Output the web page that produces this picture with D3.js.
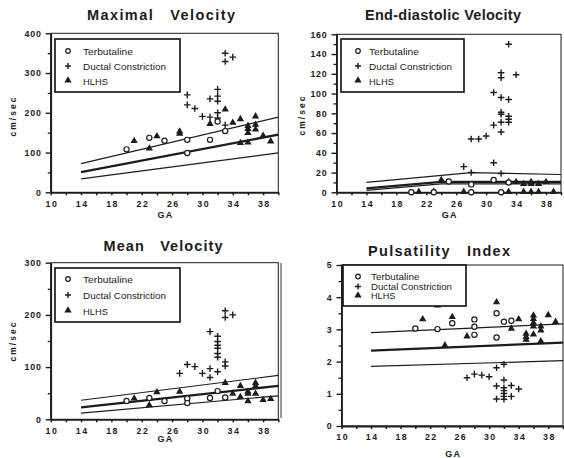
<!DOCTYPE html>
<html>
<head>
<meta charset="utf-8">
<script src="https://cdn.jsdelivr.net/npm/d3@7"></script>
<style>
  html, body { margin: 0; padding: 0; background: #fff; }
  svg { display: block; }
  .title { white-space: pre; }
</style>
</head>
<body>
<script>
// ---------------- DATA ----------------
const seriesNames = ["Terbutaline", "Ductal Constriction", "HLHS"];
const gaTicks = [10, 14, 18, 22, 26, 30, 34, 38];
const gaMinor = [12, 16, 20, 24, 28, 32, 36, 40];

// Maximal velocity (cm/sec)
const maxYTicks = [0, 100, 200, 300, 400];
const maxYMinor = [50, 150, 250, 350];
const maxTerb = [[20,108],[23,137],[25,130],[28,132],[28,99],[31,132],[32,178],[33,154]];
const maxDuct = [[33,350],[33,329],[34,340],[28,245],[28,220],[29,211],[31,235],[30,191],[31,189],
                 [32,259],[32,242],[32,229],[32,200],[32,187],[33,169]];
const maxHlhs = [[21,128],[23,109],[24,140],[27,152],[27,146],[31,171],[33,207],[34,174],[35,183],
                 [36,166],[36,158],[36,148],[35,123],[36,124],[37,190],[37,169],[37,157],[38,141],[39,127]];
const maxUpper = [[14,72],[40,189]];
const maxMid   = [[14,51],[40,145]];
const maxLower = [[14,34],[40,99]];

// End-diastolic velocity (cm/sec)
const edvYTicks = [0, 20, 40, 60, 80, 100, 120, 140, 160];
const edvYMinor = [10, 30, 50, 70, 90, 110, 130, 150];
const edvTerb = [[20,0],[23,0],[25,11],[28,8],[28,0],[31,12.5],[32,0],[33,10]];
const edvDuct = [[33,150],[34,119],[32,121],[32,116],[31,101],[32,96],[33,94],[32,81],[32,79],[33,77],
                 [33,74],[32,71],[33,71],[31,68],[32,61],[30,57],[28,54],[29,54],[31,30],[27,26],[28,20],[32,19]];
const edvHlhs = [[21,0],[23,0],[24,12],[27,0],[33,0],[35,0],[36,0],[37,0],[39,0],[33,10],[34,10],
                 [35,8],[36,8],[36,10],[37,8],[38,10]];
const edvUpper = [[14,10],[28,20],[40,18]];
const edvMid   = [[14,4],[24,10.5],[40,10.5]];
const edvLower = [[14,2],[24,8.5],[40,8.5]];

// Mean velocity (cm/sec)
const meanYTicks = [0, 100, 200, 300];
const meanYMinor = [50, 150, 250];
const meanTerb = [[20,35],[23,41],[25,35],[28,40],[28,31],[31,41],[32,54],[33,42]];
const meanDuct = [[33,208],[33,195],[34,200],[31,168],[32,159],[32,149],[32,142],[32,136],[32,126],[32,119],
                  [33,110],[33,102],[27,88],[28,105],[29,101],[30,88],[31,97],[31,80],[32,91]];
const meanHlhs = [[21,39],[23,26],[24,51],[27,52],[33,69],[34,48],[35,63],[35,42],[36,48],[36,34],[36,52],
                  [37,69],[37,63],[37,48],[38,36],[39,38]];
const meanUpper = [[14,36.5],[40,84]];
const meanMid   = [[14,23],[40,64]];
const meanLower = [[14,12],[40,45]];

// Pulsatility index
const piYTicks = [0, 1, 2, 3, 4, 5];
const piYMinor = [0.5, 1.5, 2.5, 3.5, 4.5];
const piTerb = [[20,3.03],[23,3.01],[25,3.19],[28,3.31],[28,3.08],[28,2.83],[31,3.5],[31,2.75],[32,3.24],[33,3.27]];
const piDuct = [[27,1.5],[28,1.61],[29,1.58],[30,1.53],[31,1.81],[32,1.92],[31,1.24],[32,1.43],[32,1.19],
                [32,1.1],[32,1.01],[32,0.92],[32,0.83],[31,0.84],[33,1.26],[33,0.92],[34,1.15]];
const piHlhs = [[21,3.3],[23,3.73],[25,3.37],[24,2.49],[27,2.77],[31,3.83],[33,3.01],[34,3.3],[35,2.85],
                [35,2.75],[35,2.67],[36,3.42],[36,3.31],[36,3.19],[36,3.08],[36,2.83],[37,3.08],[37,2.95],
                [37,2.62],[38,3.43],[39,3.22]];
const piUpper = [[14,2.9],[40,3.17]];
const piMid   = [[14,2.34],[40,2.59]];
const piLower = [[14,1.85],[40,2.03]];

// ---------------- LAYOUT ----------------
const W = 564, H = 458;
const INK = "#1c1c1c";
const panels = [
  { title: "Maximal   Velocity", tx: 161, ty: 20, tlen: 148,
    yMax: 400, yTicks: maxYTicks, yMinor: maxYMinor,
    series: [maxTerb, maxDuct, maxHlhs], refs: [maxUpper, maxMid, maxLower],
    x0: 50.7, x1: 278.3, yb: 192.3, yt: 33.3,
    ylab: { x: 13, y: 116 }, gaY: 218,
    leg: { x: 55, y: 39, w: 125, h: 53, sx: 68, tx: 83, rows: [51, 66, 81], tl: 83, fs: 9.8 } },
  { title: "End-diastolic Velocity", tx: 443, ty: 20, tlen: 156,
    yMax: 160, yTicks: edvYTicks, yMinor: edvYMinor,
    series: [edvTerb, edvDuct, edvHlhs], refs: [edvUpper, edvMid, edvLower],
    x0: 336.5, x1: 561, yb: 192.3, yt: 34.3,
    ylab: { x: 302, y: 115 }, gaY: 218,
    leg: { x: 341, y: 39, w: 123, h: 53, sx: 358, tx: 369, rows: [51, 66, 81], tl: 83, fs: 9.8 } },
  { title: "Mean   Velocity", tx: 163, ty: 251, tlen: 119,
    yMax: 300, yTicks: meanYTicks, yMinor: meanYMinor,
    series: [meanTerb, meanDuct, meanHlhs], refs: [meanUpper, meanMid, meanLower],
    x0: 50.7, x1: 278.3, yb: 419.3, yt: 262.7,
    ylab: { x: 13, y: 341 }, gaY: 442,
    leg: { x: 55, y: 268, w: 125, h: 54, sx: 68, tx: 83, rows: [279, 295, 311], tl: 83, fs: 9.8 } },
  { title: "Pulsatility   Index", tx: 439, ty: 256, tlen: 142,
    yMax: 5, yTicks: piYTicks, yMinor: piYMinor,
    series: [piTerb, piDuct, piHlhs], refs: [piUpper, piMid, piLower],
    x0: 341.5, x1: 563, yb: 426, yt: 265,
    ylab: null, gaY: 457,
    leg: { x: 343, y: 265, w: 123, h: 41, sx: 358, tx: 371, rows: [276.5, 286.5, 296], tl: 81, fs: 8.4 } }
];

const svg = d3.select("body").append("svg")
  .attr("width", W).attr("height", H)
  .attr("viewBox", `0 0 ${W} ${H}`)
  .style("font-family", "'Liberation Sans', Arial, Helvetica, sans-serif");

svg.append("rect").attr("width", W).attr("height", H).attr("fill", "#fff");

// scanning artefact strip at the left of the PI panel
svg.append("rect").attr("x", 280).attr("y", 263).attr("width", 2).attr("height", 155)
  .attr("fill", "#9a9a9a");

const symTri = d3.symbol().type(d3.symbolTriangle).size(23);

panels.forEach(p => {
  const x = d3.scaleLinear().domain([10, 40]).range([p.x0, p.x1]);
  const y = d3.scaleLinear().domain([0, p.yMax]).range([p.yb, p.yt]);
  const g = svg.append("g");

  // frame
  g.append("rect")
    .attr("x", x(10)).attr("y", y(p.yMax))
    .attr("width", x(40) - x(10)).attr("height", y(0) - y(p.yMax))
    .attr("fill", "none").attr("stroke", INK).attr("stroke-width", 1);

  // title
  g.append("text").attr("class", "title")
    .attr("x", p.tx).attr("y", p.ty)
    .attr("text-anchor", "middle")
    .attr("font-size", 14.5).attr("font-weight", "bold")
    .attr("fill", INK)
    .attr("textLength", p.tlen).attr("lengthAdjust", "spacing")
    .text(p.title);

  // y axis major
  const yAx = g.append("g").attr("transform", `translate(${x(10)},0)`)
    .call(d3.axisLeft(y).tickValues(p.yTicks).tickSize(5).tickSizeOuter(0)
      .tickFormat(d3.format("d")).tickPadding(4));
  yAx.select(".domain").attr("stroke", INK).attr("stroke-width", 1.8);
  yAx.selectAll(".tick line").attr("stroke", INK).attr("stroke-width", 1.4);
  yAx.selectAll(".tick text").attr("font-size", 8.8).attr("font-weight", "bold")
    .attr("fill", INK).attr("letter-spacing", 0.8);
  // y minor
  const yMin = g.append("g").attr("transform", `translate(${x(10)},0)`)
    .call(d3.axisLeft(y).tickValues(p.yMinor).tickSize(3).tickFormat(""));
  yMin.select(".domain").remove();
  yMin.selectAll(".tick line").attr("stroke", INK).attr("stroke-width", 1.3);

  // x axis major
  const xAx = g.append("g").attr("transform", `translate(0,${y(0)})`)
    .call(d3.axisBottom(x).tickValues(gaTicks).tickSize(3).tickSizeOuter(0).tickPadding(5));
  xAx.select(".domain").attr("stroke", INK).attr("stroke-width", 1.8);
  xAx.selectAll(".tick line").attr("stroke", INK).attr("stroke-width", 1.5);
  xAx.selectAll(".tick text").attr("font-size", 8.8).attr("font-weight", "bold")
    .attr("fill", INK).attr("letter-spacing", 1.5).attr("dx", 0.7);
  const xMin = g.append("g").attr("transform", `translate(0,${y(0)})`)
    .call(d3.axisBottom(x).tickValues(gaMinor).tickSize(3).tickFormat(""));
  xMin.select(".domain").remove();
  xMin.selectAll(".tick line").attr("stroke", INK).attr("stroke-width", 1.5);

  // GA label
  g.append("text").attr("x", (x(10) + x(40)) / 2 + 1).attr("y", p.gaY)
    .attr("text-anchor", "middle").attr("font-size", 9).attr("font-weight", "bold")
    .attr("letter-spacing", 1.2).attr("fill", INK).text("GA");

  // y label
  if (p.ylab) {
    g.append("text")
      .attr("transform", `translate(${p.ylab.x + 3},${p.ylab.y}) rotate(-90)`)
      .attr("text-anchor", "middle").attr("font-size", 8.5).attr("font-weight", "bold")
      .attr("letter-spacing", 2).attr("fill", INK).text("cm/sec");
  }

  // reference lines
  const line = d3.line().x(d => x(d[0])).y(d => y(d[1]));
  p.refs.forEach((r, i) => {
    g.append("path").attr("d", line(r)).attr("fill", "none")
      .attr("stroke", INK).attr("stroke-width", i === 1 ? 2.3 : 1.2);
  });

  // markers
  const [terb, duct, hlhs] = p.series;
  g.append("g").selectAll("path").data(duct).join("path")
    .attr("transform", d => `translate(${x(d[0])},${y(d[1])})`)
    .attr("d", "M-3.3,0H3.3M0,-3.3V3.3")
    .attr("stroke", INK).attr("stroke-width", 1.4).attr("fill", "none");
  g.append("g").selectAll("path").data(hlhs).join("path")
    .attr("transform", d => `translate(${x(d[0])},${y(d[1]) - 0.5})`)
    .attr("d", symTri).attr("fill", INK);
  g.append("g").selectAll("circle").data(terb).join("circle")
    .attr("cx", d => x(d[0])).attr("cy", d => y(d[1])).attr("r", 2.6)
    .attr("fill", "#fff").attr("stroke", INK).attr("stroke-width", 1.2);

  // legend
  const L = p.leg;
  const lg = g.append("g");
  lg.append("rect").attr("x", L.x).attr("y", L.y).attr("width", L.w).attr("height", L.h)
    .attr("fill", "#fff").attr("stroke", INK).attr("stroke-width", 1.7);
  lg.append("circle").attr("cx", L.sx).attr("cy", L.rows[0]).attr("r", 2.3)
    .attr("fill", "#fff").attr("stroke", INK).attr("stroke-width", 1.2);
  lg.append("path").attr("transform", `translate(${L.sx},${L.rows[1]})`)
    .attr("d", "M-3,0H3M0,-3V3").attr("stroke", INK).attr("stroke-width", 1.4);
  lg.append("path").attr("transform", `translate(${L.sx},${L.rows[2] - 0.5})`)
    .attr("d", symTri).attr("fill", INK);
  const lens = [L.tl * 0.6, L.tl, L.tl * 0.3];
  seriesNames.forEach((s, i) => {
    lg.append("text").attr("x", L.tx).attr("y", L.rows[i] + L.fs * 0.36)
      .attr("font-size", L.fs).attr("fill", INK)
      .attr("textLength", lens[i]).attr("lengthAdjust", "spacingAndGlyphs")
      .text(s);
  });
});
</script>
</body>
</html>
